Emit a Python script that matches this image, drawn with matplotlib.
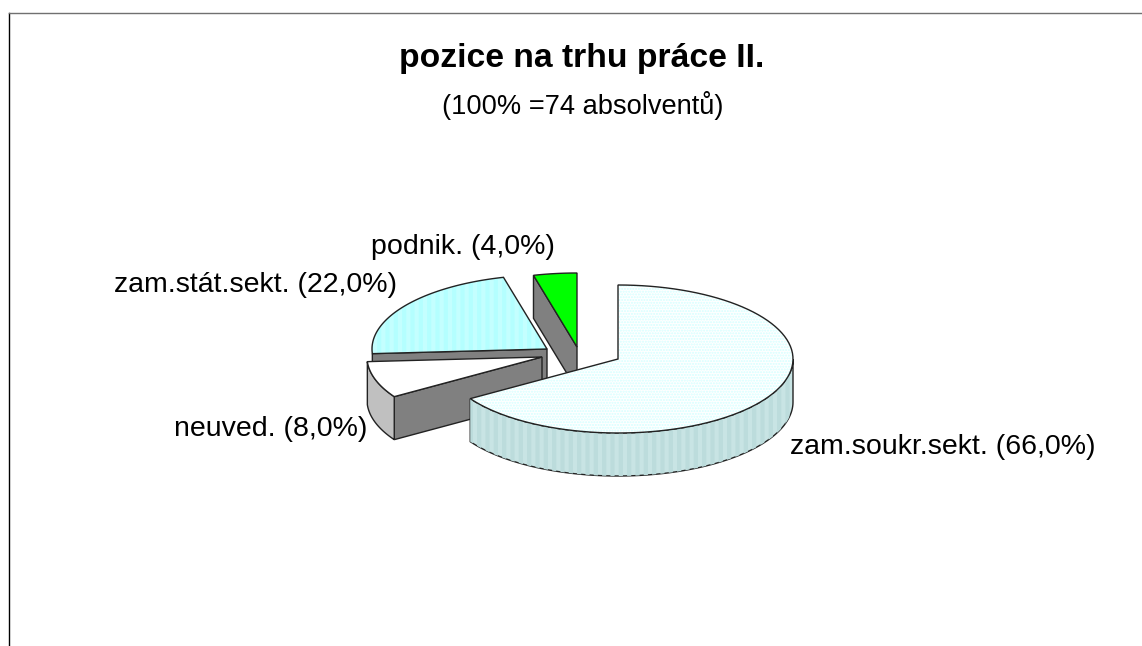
import numpy as np
import matplotlib
matplotlib.use("Agg")
import matplotlib.pyplot as plt

labels = ["zam.soukr.sekt. (66,0%)", "neuved. (8,0%)", "zam.stát.sekt. (22,0%)", "podnik. (4,0%)"]
values = [66.0, 8.0, 22.0, 4.0]

title = "pozice na trhu práce II."
subtitle = "(100% =74 absolventů)"

# pixel geometry of the fake 3d pie
cx, cy = 618, 359
rx, ry = 175, 74
depth = 43
# each slice is pulled out by hand, not along its middle angle
offsets = [(0, 0), (-76, -2), (-71, -10), (-41, -12)]
top_colors = ["#ffffff", "#ffffff", "#c4ffff", "#00ff00"]
wall_colors = ["#c8e4e4", "#c0c0c0", "#808080", "#808080"]
label_pos = [(943, 447), (271, 429), (256, 285), (463, 247)]

plt.rcParams["font.family"] = ["Liberation Sans", "DejaVu Sans"]
plt.rcParams["hatch.linewidth"] = 1.0

fig = plt.figure(figsize=(11.42, 6.46), dpi=100)
ax = fig.add_axes([0, 0, 1, 1])
ax.set_xlim(0, 1142)
ax.set_ylim(646, 0)
ax.axis("off")

# outer frame
ax.plot([9, 9], [13, 646], color="black", lw=1)
ax.plot([9, 1142], [13, 13], color="#707070", lw=1)


def arc(t0, t1, ox, oy):
    # angles in degrees, clockwise from 12 o'clock
    t = np.radians(np.linspace(t0, t1, 90))
    return cx + ox + rx * np.sin(t), cy + oy - ry * np.cos(t)


def wall(xs, ys, color, z):
    px = np.concatenate([xs, xs[::-1]])
    py = np.concatenate([ys, ys[::-1] + depth])
    ax.fill(px, py, facecolor=color, edgecolor="#222222", lw=1, zorder=z)


edges = np.concatenate([[0], np.cumsum(values)]) / sum(values) * 360

# back slices first, big one last
for i in [3, 2, 1, 0]:
    t0, t1 = edges[i], edges[i + 1]
    ox, oy = offsets[i]
    z = 10 - i
    xs, ys = arc(t0, t1, ox, oy)
    ax_x, ax_y = cx + ox, cy + oy

    if i == 0:
        # only the part of the rim facing us
        wx, wy = arc(90, t1, ox, oy)
        wall(wx, wy, wall_colors[i], z)
        stripes = ax.fill(np.r_[wx, wx[::-1]], np.r_[wy, wy[::-1] + depth], facecolor="none",
                          edgecolor="#bcdcdc", hatch="||", lw=0, zorder=z)
        stripes[0].set_hatch_linewidth(3)
    else:
        # radial side facing us, starts at the far end of the slice
        wall(np.array([xs[0], ax_x]), np.array([ys[0], ax_y]), "#808080", z)
        if i == 1:
            wall(xs, ys, wall_colors[i], z)

    px = np.r_[ax_x, xs]
    py = np.r_[ax_y, ys]
    ax.fill(px, py, facecolor=top_colors[i], edgecolor="none", zorder=z + 0.1)
    if i == 0:
        ax.fill(px, py, facecolor="none", edgecolor="#d4ffff", hatch="......", lw=0, zorder=z + 0.2)
    if i == 2:
        stripes = ax.fill(px, py, facecolor="none", edgecolor="#b4ffff", hatch="||", lw=0, zorder=z + 0.2)
        stripes[0].set_hatch_linewidth(3)
    ax.fill(px, py, facecolor="none", edgecolor="#222222", lw=1, zorder=z + 0.3)

for lab, (x, y) in zip(labels, label_pos):
    ax.text(x, y, lab, ha="center", va="center", fontsize=20.5, color="black", zorder=20)

ax.text(582, 59, title, ha="center", va="center", fontsize=24.2, fontweight="bold")
ax.text(583, 106, subtitle, ha="center", va="center", fontsize=19.6)

fig.savefig("out.png", dpi=100)
